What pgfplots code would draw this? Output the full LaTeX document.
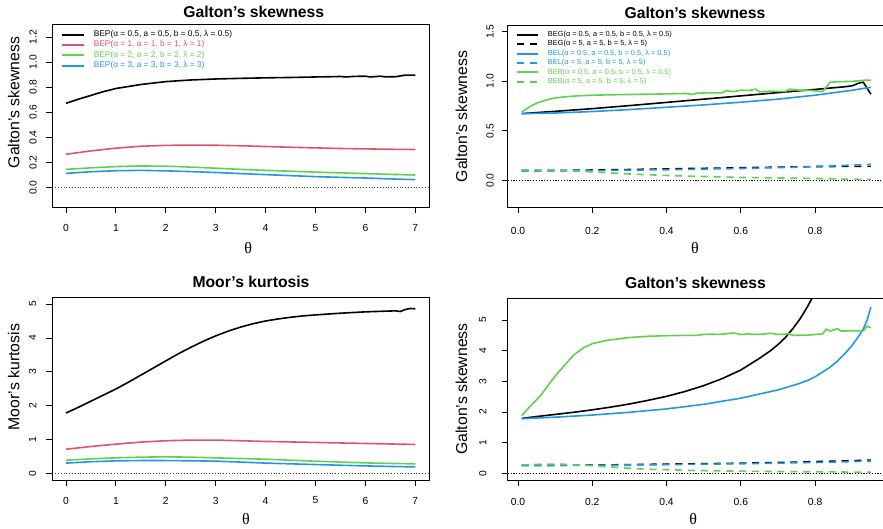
\documentclass[border=0pt]{standalone}
\usepackage{pgfplots}
\pgfplotsset{compat=1.18}
\usepackage{fontspec}
\setmainfont{Liberation Sans}
\newfontfamily\serif{Liberation Serif}
\definecolor{rblack}{HTML}{000000}
\definecolor{rred}{HTML}{DF536B}
\definecolor{rgreen}{HTML}{61D04F}
\definecolor{rblue}{HTML}{2297E6}
\pgfplotsset{
  rstyle/.style={
    scale only axis, enlargelimits=false, clip=true,
    axis line style={line width=0.8pt, black},
    tick align=outside, major tick length=6pt,
    xtick pos=bottom, ytick pos=left,
    tick style={line width=0.8pt, black},
    /pgf/number format/assume math mode=true,
    ticklabel style={font=\fontsize{10.3}{12}\selectfont},
    title style={font=\bfseries\fontsize{15.7}{18}\selectfont, anchor=center, yshift=-6pt},
    ylabel style={font=\fontsize{15.8}{18}\selectfont, anchor=center},
    xlabel style={font=\serif\fontsize{16}{18}\selectfont, anchor=center},
    xlabel={θ},
    legend cell align=left,
  },
  thinzero/.style={black!75, line width=0.7pt, dash pattern=on 0.8pt off 2pt, forget plot},
  thickzero/.style={black, line width=1.3pt, dash pattern=on 1.2pt off 1.6pt, forget plot},
  sl/.style={line width=1.6pt},
  dl/.style={line width=1.6pt, dash pattern=on 7pt off 5.8pt},
}
\begin{document}
\begin{tikzpicture}
\useasboundingbox (0pt,0pt) rectangle (883pt,528pt);
% ---------------- Top left ----------------
\begin{axis}[rstyle,
  at={(52pt,321pt)}, anchor=south west, width=377.3pt, height=183pt,
  xmin=-0.28, xmax=7.28, ymin=-0.154, ymax=1.304,
  xtick={0,1,2,3,4,5,6,7},
  ytick={0,0.2,0.4,0.6,0.8,1.0,1.2},
  xticklabel style={anchor=center, yshift=-15.2pt},
  yticklabel style={xshift=-13pt, rotate=90, anchor=center, /pgf/number format/.cd, fixed, fixed zerofill, precision=1},
  title={Galton's skewness}, title style={at={(axis description cs:0.5346,1.0656)}},
  ylabel={Galton's skewness}, ylabel style={at={(axis description cs:-0.1015,0.571)}},
  xlabel style={at={(axis description cs:0.5203,-0.224)}},
  legend style={draw=none, fill=none, inner sep=0pt, outer sep=0pt,
    at={(axis description cs:0.0239,0.9634)}, anchor=north west,
    font=\fontsize{8.3}{9}\selectfont,
    nodes={inner sep=0pt, text height=6pt, text depth=2pt},
    row sep=2.3pt,
    /tikz/every odd column/.append style={column sep=9pt}},
  legend image code/.code={\draw[#1, line width=1.9pt] (0pt,0pt) -- (22pt,0pt);},
]
\addplot[thinzero] coordinates {(-1,0) (8,0)};
\addplot[sl, rblack] coordinates {(0,0.672) (0.25,0.705) (0.5,0.735) (0.75,0.765) (1,0.79) (1.5,0.822) (2,0.845) (2.5,0.858) (3,0.866) (3.5,0.871) (4,0.875) (4.5,0.878) (5,0.882) (5.3,0.884) (5.5,0.886) (5.6,0.882) (5.8,0.887) (6,0.888) (6.1,0.882) (6.3,0.888) (6.4,0.883) (6.6,0.884) (6.7,0.89) (6.8,0.897) (7,0.896)};
\addlegendentry{\textcolor{rblack}{BEP(α = 0.5, a = 0.5, b = 0.5, λ = 0.5)}}
\addplot[sl, rred] coordinates {(0,0.266) (0.5,0.293) (1,0.315) (1.5,0.33) (2,0.337) (2.5,0.339) (3,0.338) (3.5,0.334) (4,0.328) (4.5,0.322) (5,0.317) (5.5,0.312) (6,0.309) (6.5,0.306) (7,0.304)};
\addlegendentry{\textcolor{rred}{BEP(α = 1, a = 1, b = 1, λ = 1)}}
\addplot[sl, rgreen] coordinates {(0,0.146) (0.5,0.158) (1,0.168) (1.5,0.173) (2,0.171) (2.5,0.164) (3,0.155) (3.5,0.146) (4,0.138) (4.5,0.131) (5,0.124) (5.5,0.118) (6,0.112) (6.5,0.106) (7,0.101)};
\addlegendentry{\textcolor{rgreen}{BEP(α = 2, a = 2, b = 2, λ = 2)}}
\addplot[sl, rblue] coordinates {(0,0.114) (0.5,0.127) (1,0.135) (1.5,0.138) (2,0.134) (2.5,0.128) (3,0.121) (3.5,0.112) (4,0.104) (4.5,0.096) (5,0.088) (5.5,0.082) (6,0.077) (6.5,0.07) (7,0.064)};
\addlegendentry{\textcolor{rblue}{BEP(α = 3, a = 3, b = 3, λ = 3)}}
\end{axis}
% ---------------- Top right ----------------
\begin{axis}[rstyle,
  at={(507.7pt,321pt)}, anchor=south west, width=377.1pt, height=182pt,
  xmin=-0.0276, xmax=0.9876, ymin=-0.268, ymax=1.568,
  xtick={0,0.2,0.4,0.6,0.8},
  ytick={0,0.5,1.0,1.5},
  xticklabel style={anchor=center, yshift=-17.8pt, /pgf/number format/.cd, fixed, fixed zerofill, precision=1},
  yticklabel style={xshift=-11.7pt, rotate=90, anchor=center, /pgf/number format/.cd, fixed, fixed zerofill, precision=1},
  title={Galton's skewness}, title style={at={(axis description cs:0.4967,1.0687)}},
  ylabel={Galton's skewness}, ylabel style={at={(axis description cs:-0.1225,0.497)}},
  xlabel style={at={(axis description cs:0.4967,-0.2253)}},
  legend style={draw=none, fill=none, inner sep=0pt, outer sep=0pt,
    at={(axis description cs:0.022,0.967)}, anchor=north west,
    font=\fontsize{7.4}{8}\selectfont,
    nodes={inner sep=0pt, text height=5.5pt, text depth=2pt},
    row sep=1.9pt,
    /tikz/every odd column/.append style={column sep=9.3pt}},
  legend image code/.code={\draw[#1, line width=1.9pt] (0pt,0pt) -- (20.7pt,0pt);},
]
\addplot[thickzero] coordinates {(-1,0) (2,0)};
\addplot[sl, rblack] coordinates {(0.01,0.674) (0.1,0.697) (0.2,0.724) (0.3,0.755) (0.4,0.787) (0.5,0.82) (0.6,0.853) (0.7,0.886) (0.8,0.918) (0.88,0.945) (0.9,0.955) (0.92,0.985) (0.93,0.99) (0.95,0.87)};
\addlegendentry{\textcolor{rblack}{BEG(α = 0.5, a = 0.5, b = 0.5, λ = 0.5)}}
\addplot[dl, rblack] coordinates {(0.01,0.10) (0.1,0.10) (0.2,0.105) (0.3,0.11) (0.4,0.117) (0.5,0.122) (0.6,0.128) (0.7,0.134) (0.8,0.14) (0.9,0.142) (0.95,0.142)};
\addlegendentry{\textcolor{rblack}{BEG(α = 5, a = 5, b = 5, λ = 5)}}
\addplot[sl, rblue] coordinates {(0.01,0.674) (0.1,0.68) (0.2,0.695) (0.3,0.715) (0.4,0.738) (0.5,0.762) (0.6,0.789) (0.7,0.82) (0.8,0.86) (0.9,0.91) (0.95,0.94)};
\addlegendentry{\textcolor{rblue}{BEL(α = 0.5, a = 0.5, b = 0.5, λ = 0.5)}}
\addplot[dl, rblue] coordinates {(0.01,0.095) (0.2,0.098) (0.4,0.108) (0.6,0.12) (0.8,0.138) (0.9,0.155) (0.95,0.163)};
\addlegendentry{\textcolor{rblue}{BEL(α = 5, a = 5, b = 5, λ = 5)}}
\addplot[sl, rgreen] coordinates {(0.01,0.69) (0.03,0.74) (0.05,0.78) (0.08,0.815) (0.1,0.832) (0.13,0.845) (0.16,0.853) (0.2,0.86) (0.25,0.864) (0.3,0.867) (0.35,0.87) (0.4,0.873) (0.45,0.877) (0.47,0.868) (0.48,0.88) (0.52,0.884) (0.55,0.884) (0.56,0.905) (0.58,0.896) (0.6,0.91) (0.62,0.908) (0.64,0.92) (0.65,0.895) (0.68,0.9) (0.72,0.897) (0.73,0.92) (0.76,0.91) (0.78,0.91) (0.82,0.896) (0.84,0.99) (0.86,0.995) (0.9,1.0) (0.93,1.01) (0.95,1.012)};
\addlegendentry{\textcolor{rgreen}{BEB(α = 0.5, a = 0.5, b = 0.5, λ = 0.5)}}
\addplot[dl, rgreen] coordinates {(0.01,0.10) (0.1,0.105) (0.15,0.1) (0.2,0.085) (0.3,0.065) (0.4,0.05) (0.5,0.04) (0.6,0.03) (0.7,0.025) (0.8,0.02) (0.9,0.012) (0.95,0.01)};
\addlegendentry{\textcolor{rgreen}{BEB(α = 5, a = 5, b = 5, λ = 5)}}
\end{axis}
% ---------------- Bottom left ----------------
\begin{axis}[rstyle,
  at={(52pt,48pt)}, anchor=south west, width=377.3pt, height=182.7pt,
  xmin=-0.28, xmax=7.28, ymin=-0.2, ymax=5.2,
  xtick={0,1,2,3,4,5,6,7},
  ytick={0,1,2,3,4,5},
  xticklabel style={anchor=center, yshift=-14.5pt},
  yticklabel style={xshift=-13.3pt, rotate=90, anchor=center},
  title={Moor's kurtosis}, title style={at={(axis description cs:0.5274,1.0865)}},
  ylabel={Moor's kurtosis}, ylabel style={at={(axis description cs:-0.1015,0.562)}},
  xlabel style={at={(axis description cs:0.514,-0.2135)}},
]
\addplot[thinzero] coordinates {(-1,0) (8,0)};
\addplot[sl, rblack] coordinates {(0,1.78) (0.25,1.95) (0.5,2.13) (0.75,2.31) (1,2.49) (1.25,2.69) (1.5,2.9) (1.75,3.11) (2,3.32) (2.25,3.53) (2.5,3.72) (2.75,3.9) (3,4.06) (3.25,4.2) (3.5,4.32) (3.75,4.42) (4,4.5) (4.25,4.56) (4.5,4.61) (4.75,4.65) (5,4.68) (5.5,4.73) (6,4.77) (6.4,4.79) (6.6,4.80) (6.7,4.78) (6.8,4.84) (6.9,4.87) (7,4.86)};
\addplot[sl, rred] coordinates {(0,0.71) (0.5,0.79) (1,0.86) (1.5,0.92) (2,0.96) (2.5,0.98) (3,0.98) (3.5,0.96) (4,0.94) (4.5,0.925) (5,0.91) (5.5,0.895) (6,0.88) (6.5,0.865) (7,0.85)};
\addplot[sl, rgreen] coordinates {(0,0.385) (0.5,0.425) (1,0.455) (1.5,0.475) (2,0.485) (2.5,0.475) (3,0.455) (3.5,0.435) (4,0.415) (4.5,0.385) (5,0.356) (5.5,0.33) (6,0.306) (6.5,0.29) (7,0.277)};
\addplot[sl, rblue] coordinates {(0,0.30) (0.5,0.34) (1,0.366) (1.5,0.375) (2,0.375) (2.5,0.368) (3,0.356) (3.5,0.33) (4,0.30) (4.5,0.278) (5,0.257) (5.5,0.236) (6,0.217) (6.5,0.2) (7,0.188)};
\end{axis}
% ---------------- Bottom right ----------------
\begin{axis}[rstyle,
  at={(507.7pt,48pt)}, anchor=south west, width=377.1pt, height=182pt,
  xmin=-0.0276, xmax=0.9876, ymin=-0.22, ymax=5.72,
  xtick={0,0.2,0.4,0.6,0.8},
  ytick={0,1,2,3,4,5},
  xticklabel style={anchor=center, yshift=-16.2pt, /pgf/number format/.cd, fixed, fixed zerofill, precision=1},
  yticklabel style={xshift=-19pt, rotate=90, anchor=center},
  title={Galton's skewness}, title style={at={(axis description cs:0.498,1.081)}},
  ylabel={Galton's skewness}, ylabel style={at={(axis description cs:-0.1225,0.5)}},
  xlabel style={at={(axis description cs:0.492,-0.2143)}},
]
\addplot[thickzero] coordinates {(-1,0) (2,0)};
\addplot[sl, rblack] coordinates {(0.01,1.79) (0.05,1.85) (0.1,1.92) (0.15,1.99) (0.2,2.07) (0.25,2.16) (0.3,2.26) (0.35,2.38) (0.4,2.51) (0.45,2.67) (0.5,2.86) (0.55,3.09) (0.6,3.37) (0.65,3.75) (0.68,4.0) (0.7,4.2) (0.72,4.43) (0.74,4.72) (0.76,5.05) (0.78,5.45) (0.8,5.9) (0.82,6.4) (0.85,7.3)};
\addplot[dl, rblack] coordinates {(0.01,0.26) (0.1,0.26) (0.2,0.27) (0.3,0.28) (0.4,0.30) (0.5,0.31) (0.6,0.33) (0.7,0.35) (0.8,0.38) (0.9,0.41) (0.95,0.43)};
\addplot[sl, rblue] coordinates {(0.01,1.78) (0.1,1.83) (0.2,1.9) (0.3,1.99) (0.4,2.1) (0.5,2.25) (0.6,2.45) (0.7,2.72) (0.75,2.9) (0.78,3.03) (0.8,3.15) (0.82,3.3) (0.84,3.46) (0.86,3.66) (0.88,3.9) (0.9,4.18) (0.91,4.35) (0.92,4.52) (0.93,4.72) (0.94,5.0) (0.95,5.42)};
\addplot[dl, rblue] coordinates {(0.01,0.25) (0.2,0.26) (0.4,0.28) (0.6,0.31) (0.8,0.35) (0.9,0.38) (0.95,0.40)};
\addplot[sl, rgreen] coordinates {(0.01,1.88) (0.03,2.15) (0.06,2.52) (0.08,2.85) (0.1,3.17) (0.12,3.45) (0.15,3.86) (0.177,4.1) (0.2,4.23) (0.24,4.34) (0.3,4.43) (0.35,4.47) (0.4,4.49) (0.45,4.5) (0.48,4.5) (0.5,4.53) (0.52,4.54) (0.54,4.53) (0.56,4.55) (0.58,4.58) (0.6,4.53) (0.62,4.55) (0.64,4.53) (0.66,4.54) (0.68,4.57) (0.7,4.53) (0.73,4.55) (0.74,4.5) (0.78,4.51) (0.82,4.55) (0.83,4.7) (0.84,4.64) (0.86,4.72) (0.87,4.64) (0.9,4.65) (0.93,4.65) (0.94,4.8) (0.95,4.75)};
\addplot[dl, rgreen] coordinates {(0.01,0.27) (0.05,0.29) (0.08,0.30) (0.12,0.295) (0.15,0.28) (0.19,0.26) (0.22,0.23) (0.26,0.195) (0.29,0.17) (0.32,0.15) (0.36,0.13) (0.39,0.118) (0.43,0.107) (0.49,0.086) (0.56,0.075) (0.63,0.064) (0.73,0.053) (0.85,0.043) (0.95,0.032)};
\end{axis}
\end{tikzpicture}
\end{document}
